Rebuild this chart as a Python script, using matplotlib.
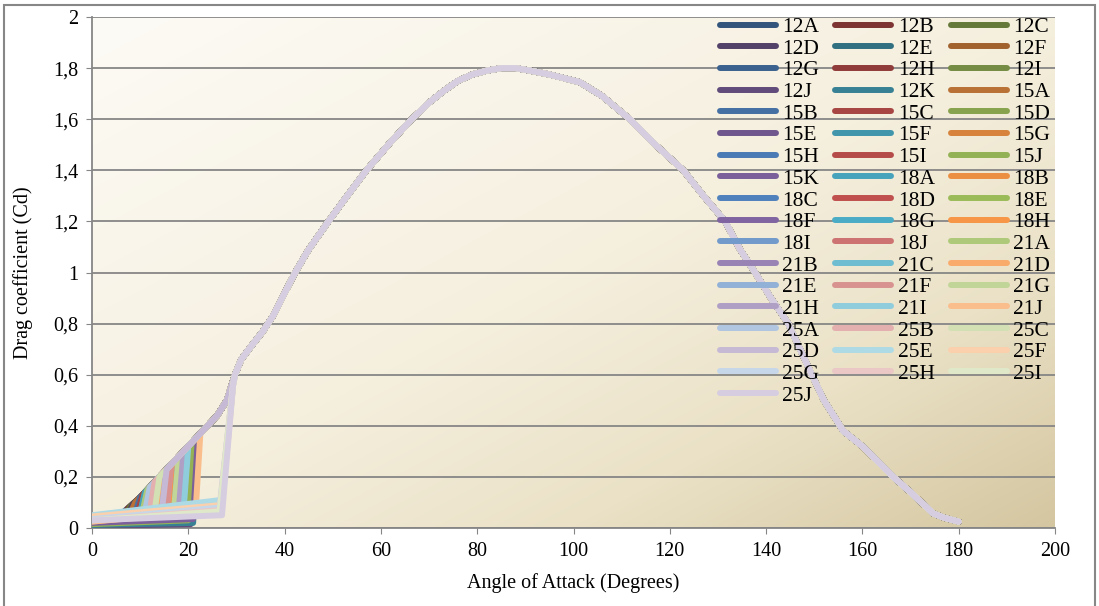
import matplotlib.pyplot as plt
import numpy as np
from matplotlib import font_manager
from matplotlib.patches import Rectangle
from matplotlib.ticker import FuncFormatter

installed = {f.name for f in font_manager.fontManager.ttflist}
serif = [f for f in ['Liberation Serif', 'Times New Roman', 'Nimbus Roman', 'DejaVu Serif'] if f in installed]
plt.rcParams['font.family'] = serif

# series names
names = ['12A', '12B', '12C', '12D', '12E', '12F', '12G', '12H', '12I', '12J', '12K',
         '15A', '15B', '15C', '15D', '15E', '15F', '15G', '15H', '15I', '15J', '15K',
         '18A', '18B', '18C', '18D', '18E', '18F', '18G', '18H', '18I', '18J',
         '21A', '21B', '21C', '21D', '21E', '21F', '21G', '21H', '21I', '21J',
         '25A', '25B', '25C', '25D', '25E', '25F', '25G', '25H', '25I', '25J']

# pre-stall part of each series
cd_zero = [0.045, 0.045, 0.04, 0.04, 0.035, 0.035, 0.03, 0.03, 0.01, 0.008, 0.012,
           0.045, 0.04, 0.04, 0.035, 0.035, 0.03, 0.03, 0.03, 0.025, 0.015, 0.02,
           0.045, 0.04, 0.04, 0.035, 0.035, 0.03, 0.03, 0.03, 0.025, 0.025,
           0.045, 0.045, 0.04, 0.04, 0.035, 0.035, 0.03, 0.03, 0.03, 0.025,
           0.045, 0.04, 0.04, 0.035, 0.05, 0.045, 0.035, 0.03, 0.03, 0.03]
stall_deg = [6, 6.5, 7, 7.5, 8, 8.5, 9, 10, 20, 20.5, 21,
             8, 9, 9.5, 10, 10.5, 11, 12, 13, 14, 20, 21,
             10, 11, 12, 13, 14, 14.5, 15, 16, 17, 18,
             10.5, 11.5, 12.5, 13.5, 14.5, 15.5, 17, 18, 19, 21.5,
             11, 12, 13, 14.5, 27, 27, 26.5, 26.5, 26.5, 27]
cd_stall = [0.055, 0.055, 0.055, 0.055, 0.05, 0.05, 0.05, 0.05, 0.02, 0.015, 0.02,
            0.06, 0.06, 0.06, 0.055, 0.055, 0.055, 0.055, 0.055, 0.05, 0.03, 0.035,
            0.06, 0.06, 0.06, 0.06, 0.06, 0.06, 0.06, 0.06, 0.06, 0.06,
            0.065, 0.065, 0.065, 0.065, 0.065, 0.065, 0.065, 0.065, 0.065, 0.06,
            0.065, 0.065, 0.065, 0.065, 0.11, 0.09, 0.08, 0.07, 0.065, 0.05]
jump_deg = [7, 7.5, 8, 8.5, 9, 9.5, 10, 11, 21, 21.5, 22,
            9, 10, 10.5, 11, 11.5, 12, 13, 14, 15, 21, 22,
            11, 12, 13, 14, 15, 15.5, 16, 17, 18, 19,
            11.5, 12.5, 13.5, 14.5, 15.5, 16.5, 18, 19, 20, 22.5,
            12, 13, 14, 15.5, 29.3, 29.3, 29.3, 29.3, 29.3, 29.3]
cd_jump = [0.07, 0.078, 0.085, 0.093, 0.1, 0.11, 0.12, 0.14, 0.34, 0.35, 0.36,
           0.1, 0.12, 0.13, 0.14, 0.15, 0.16, 0.18, 0.2, 0.22, 0.34, 0.36,
           0.14, 0.16, 0.18, 0.2, 0.22, 0.23, 0.24, 0.26, 0.28, 0.3,
           0.15, 0.17, 0.19, 0.21, 0.23, 0.25, 0.28, 0.3, 0.32, 0.37,
           0.16, 0.18, 0.2, 0.23, 0.56, 0.56, 0.56, 0.56, 0.56, 0.56]

# common curve all series follow after stall
env_deg = [5, 7, 10, 12, 14, 16, 18, 20, 22, 24, 26, 28, 29.7, 31, 33, 35.5, 37.6,
           40, 42.2, 45, 49.1, 53, 57, 62, 66.4, 70, 73, 76, 79, 82, 85, 88, 91,
           95, 101.3, 106, 111.7, 117, 122.8, 127, 131.5, 134.6, 137.7, 141, 144.6,
           149.5, 152, 154.7, 156, 160, 166.4, 170, 174.7, 177, 180]
env_cd = [0.05, 0.07, 0.12, 0.16, 0.2, 0.24, 0.28, 0.32, 0.36, 0.4, 0.44, 0.5, 0.6,
          0.66, 0.71, 0.77, 0.83, 0.92, 1.0, 1.09, 1.2, 1.3, 1.4, 1.51, 1.6, 1.665,
          1.71, 1.75, 1.775, 1.79, 1.8, 1.8, 1.79, 1.775, 1.745, 1.69, 1.6, 1.5,
          1.4, 1.3, 1.2, 1.09, 1.0, 0.9, 0.8, 0.6, 0.5, 0.42, 0.38, 0.32, 0.2,
          0.14, 0.057, 0.04, 0.025]

base = ['#4F81BD', '#C0504D', '#9BBB59', '#8064A2', '#4BACC6', '#F79646']
shades = [-0.35, -0.25, -0.13, -0.05, 0.0, 0.2, 0.38, 0.55, 0.68]


def shade(hexcol, f):
    c = np.array([int(hexcol[i:i + 2], 16) for i in (1, 3, 5)]) / 255.0
    if f < 0:
        c = c * (1 + f)
    else:
        c = c + (1 - c) * f
    return c


colors = [shade(base[i % 6], shades[i // 6]) for i in range(len(names))]

fig = plt.figure(figsize=(10.99, 6.06), dpi=100)
ax = fig.add_axes([92 / 1099, 1 - 528 / 606, 963 / 1099, 511 / 606])

# parchment gradient background
u, v = np.meshgrid(np.linspace(0, 1, 300), np.linspace(1, 0, 200))
t = 0.5 * (u + (1 - v))
stops = [0, 0.5, 0.75, 1]
cols = np.array([[253, 251, 246], [245, 239, 222], [234, 225, 198], [212, 198, 160]]) / 255.0
img = np.dstack([np.interp(t, stops, cols[:, k]) for k in range(3)])
ax.imshow(img, extent=[0, 1, 0, 1], transform=ax.transAxes, aspect='auto', zorder=0)
ax.patch.set_visible(False)

lines = []
for i, name in enumerate(names):
    xs = [0, stall_deg[i], jump_deg[i]] + [d for d in env_deg if d > jump_deg[i]]
    ys = [cd_zero[i], cd_stall[i], cd_jump[i]] + [c for d, c in zip(env_deg, env_cd) if d > jump_deg[i]]
    ln, = ax.plot(xs, ys, color=colors[i], lw=4.3, label=name, zorder=3,
                  solid_capstyle='round', solid_joinstyle='round')
    lines.append(ln)

ax.set_xlim(0, 200)
ax.set_ylim(0, 2)
ax.set_xticks(np.arange(0, 201, 20))
ax.set_yticks(np.arange(0, 2.01, 0.2))
ax.yaxis.set_major_formatter(FuncFormatter(lambda y, p: f'{y:g}'.replace('.', ',')))
ax.grid(axis='y', color='#868686', lw=1.3, zorder=1)
ax.set_axisbelow(True)
for s in ['top', 'right']:
    ax.spines[s].set_visible(False)
for s in ['left', 'bottom']:
    ax.spines[s].set_color('#868686')
    ax.spines[s].set_linewidth(1.3)
ax.tick_params(direction='out', length=4, color='#868686', labelsize=14.5, pad=6)

ax.set_xlabel('Angle of Attack (Degrees)', fontsize=14.5, labelpad=9)
ax.set_ylabel('Drag coefficient (Cd)', fontsize=14.5, labelpad=14)

# legend filled row by row like the original
order = list(range(0, 52, 3)) + list(range(1, 52, 3)) + list(range(2, 52, 3))
ax.legend([lines[k] for k in order], [names[k] for k in order], ncol=3,
          loc='upper left', bbox_to_anchor=(0.652, 1.0), frameon=False,
          fontsize=15.5, handlelength=2.6, handletextpad=0.3, columnspacing=0.75,
          labelspacing=0.075, borderpad=0, borderaxespad=0)

fig.patches.append(Rectangle((4 / 1099, -0.01), 1091 / 1099, 1 - 5 / 606 + 0.01,
                             transform=fig.transFigure, fill=False,
                             edgecolor='#878787', lw=1.5))

fig.savefig('out.png', dpi=100)
